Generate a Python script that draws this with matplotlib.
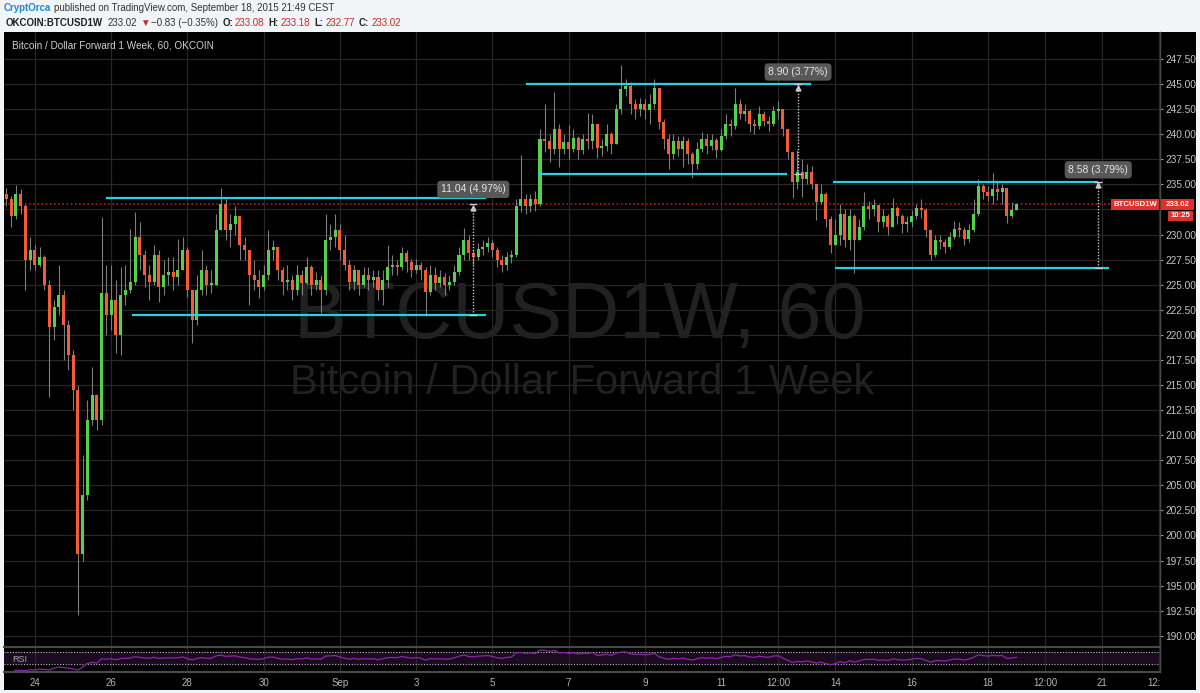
import numpy as np
import pandas as pd
import matplotlib
matplotlib.use('Agg')
import matplotlib.pyplot as plt
from matplotlib.patches import Rectangle
from matplotlib.lines import Line2D
from matplotlib.transforms import Bbox, TransformedBbox

plt.rcParams['font.family'] = ['Liberation Sans', 'DejaVu Sans']

W, H = 1200, 693

start_hour = 6
step_hours = 3
first_open = 234.0
close = [233.5, 231.8, 234.0, 232.8, 227.5, 228.5, 227.0, 227.8, 225.0, 220.8,
         222.8, 224.0, 221.0, 218.0, 214.5, 198.2, 204.0, 211.5, 214.0, 211.5,
         224.2, 222.0, 223.5, 220.0, 224.0, 224.5, 225.3, 229.8, 228.0, 226.0,
         225.3, 228.0, 224.8, 226.0, 226.3, 225.8, 226.5, 228.5, 224.5, 221.5,
         224.5, 226.5, 225.0, 225.0, 230.5, 233.0, 230.5, 231.0, 231.8, 229.0,
         228.5, 226.0, 225.5, 224.8, 226.0, 228.5, 228.8, 226.5, 225.3, 225.5,
         224.5, 226.0, 225.2, 226.8, 225.0, 225.5, 224.5, 229.5, 229.8, 230.5,
         228.5, 227.0, 225.3, 226.5, 225.0, 226.0, 225.5, 225.8, 224.5, 225.5,
         226.8, 227.0, 226.8, 228.2, 227.3, 226.5, 227.0, 226.5, 224.3, 226.0,
         225.2, 225.8, 225.0, 225.3, 226.3, 228.0, 229.5, 228.2, 227.8, 228.6,
         228.8, 229.2, 228.5, 227.5, 227.0, 227.8, 228.0, 232.8, 233.5, 232.8,
         233.5, 233.0, 239.5, 239.3, 238.5, 240.5, 238.5, 239.2, 238.5, 239.6,
         238.4, 239.5, 239.3, 241.0, 238.6, 238.8, 240.0, 239.0, 242.5, 244.5,
         244.8, 243.0, 242.5, 243.0, 242.4, 243.0, 244.6, 241.2, 239.5, 238.0,
         239.3, 238.5, 239.3, 238.0, 237.0, 238.5, 239.5, 238.8, 239.4, 238.4,
         239.8, 241.0, 240.8, 243.0, 242.0, 242.3, 241.0, 240.8, 242.0, 241.3,
         241.0, 242.3, 242.5, 240.5, 238.2, 235.2, 236.2, 235.5, 236.2, 235.0,
         233.2, 234.0, 231.5, 229.0, 230.0, 232.0, 229.5, 231.8, 229.5, 230.8,
         232.8, 232.5, 232.9, 231.2, 231.8, 230.8, 232.6, 231.8, 231.0, 231.2,
         231.8, 232.6, 232.4, 230.5, 228.0, 229.5, 229.3, 228.8, 229.8, 230.6,
         230.5, 229.6, 230.5, 232.0, 234.8, 234.2, 233.8, 234.5, 234.2, 234.6,
         231.8, 232.4, 233.02]
high = [234.6, 233.8, 234.9, 234.5, 233.0, 229.8, 229.0, 228.8, 228.0, 225.5,
        223.5, 227.0, 224.5, 221.5, 218.5, 215.0, 208.0, 213.5, 216.8, 214.0,
        231.7, 227.0, 227.0, 225.5, 226.8, 227.0, 230.6, 232.2, 231.2, 228.5,
        227.0, 229.0, 228.5, 227.5, 227.8, 227.8, 229.6, 229.8, 228.8, 224.5,
        226.0, 228.5, 227.0, 226.5, 232.0, 234.6, 233.5, 232.0, 232.8, 231.5,
        229.8, 228.5, 227.5, 226.5, 227.0, 230.5, 229.5, 228.5, 226.8, 227.0,
        226.0, 227.0, 226.5, 227.8, 227.0, 226.3, 226.0, 232.0, 231.0, 232.0,
        231.0, 230.0, 227.5, 227.0, 226.5, 226.8, 226.8, 226.5, 226.5, 226.5,
        229.0, 228.0, 227.5, 228.8, 228.5, 227.6, 227.6, 227.3, 226.8, 227.0,
        226.8, 226.5, 226.2, 226.0, 227.0, 228.8, 230.7, 230.0, 228.6, 229.2,
        229.5, 229.8, 229.5, 228.8, 228.0, 228.3, 228.5, 233.5, 237.9, 234.0,
        234.0, 234.3, 240.5, 243.0, 240.0, 244.2, 241.0, 240.0, 240.9, 240.5,
        239.8, 240.0, 242.1, 242.0, 241.0, 239.5, 241.0, 240.2, 243.0, 246.9,
        245.5, 245.2, 243.5, 243.6, 243.5, 244.0, 245.5, 244.0, 241.5, 240.0,
        240.0, 239.8, 239.8, 239.6, 238.2, 239.2, 240.2, 240.0, 240.0, 239.6,
        240.5, 242.0, 241.5, 244.6, 243.5, 243.0, 242.5, 241.5, 242.8, 242.3,
        241.8, 242.8, 243.3, 242.5, 240.5, 238.0, 238.4, 237.5, 237.0, 236.8,
        235.0, 235.0, 234.2, 231.8, 231.5, 233.0, 232.5, 232.5, 232.0, 231.5,
        234.2, 233.3, 233.5, 232.8, 232.5, 232.0, 233.6, 232.8, 232.0, 231.8,
        232.4, 233.0, 233.5, 232.6, 230.5, 230.0, 230.0, 229.6, 230.3, 231.3,
        231.2, 230.8, 231.0, 233.5, 235.5, 235.0, 234.8, 236.1, 235.2, 235.0,
        234.5, 233.2, 233.18]
low = [232.8, 230.8, 231.5, 232.0, 224.5, 226.5, 226.5, 226.8, 224.5, 213.8,
       219.5, 222.0, 217.5, 216.5, 212.5, 192.1, 197.5, 203.5, 211.0, 210.5,
       211.0, 220.0, 220.5, 218.2, 218.0, 223.0, 224.2, 225.0, 226.5, 224.8,
       223.5, 225.0, 223.3, 224.0, 225.0, 224.5, 225.0, 226.5, 223.8, 219.2,
       221.0, 224.0, 224.0, 224.2, 225.0, 231.0, 229.5, 228.8, 230.0, 227.5,
       227.5, 223.0, 224.5, 223.7, 224.5, 225.5, 227.5, 225.5, 224.0, 224.5,
       223.5, 224.0, 224.0, 225.0, 224.0, 224.5, 222.2, 224.0, 228.5, 228.8,
       227.5, 226.5, 224.5, 224.5, 224.0, 224.8, 224.5, 224.8, 223.5, 223.0,
       224.8, 226.0, 226.0, 226.5, 226.3, 225.8, 226.2, 225.5, 221.9, 224.0,
       224.5, 224.8, 224.0, 224.5, 225.0, 226.0, 227.5, 227.5, 227.0, 227.5,
       228.0, 228.3, 227.8, 226.8, 226.3, 226.5, 227.2, 227.8, 232.2, 232.0,
       232.2, 232.3, 232.8, 238.2, 237.2, 238.0, 236.7, 238.0, 237.5, 238.2,
       237.5, 238.0, 238.5, 238.5, 237.6, 237.8, 238.3, 238.0, 239.0, 242.0,
       243.8, 242.0, 241.5, 241.8, 241.5, 241.0, 242.5, 240.5, 238.5, 236.5,
       237.5, 237.8, 236.7, 237.0, 235.6, 236.5, 238.2, 238.0, 238.4, 237.6,
       238.3, 239.5, 239.8, 240.5, 241.5, 241.3, 240.2, 240.0, 240.5, 240.8,
       240.3, 240.8, 241.5, 239.8, 237.5, 233.6, 234.5, 233.7, 235.0, 234.5,
       231.4, 233.0, 230.8, 228.2, 229.0, 229.0, 228.8, 228.5, 226.2, 229.5,
       230.5, 231.5, 231.8, 230.3, 230.8, 230.0, 230.8, 231.0, 230.2, 230.3,
       230.8, 231.5, 231.6, 229.8, 227.5, 227.8, 228.6, 228.2, 228.6, 229.6,
       229.8, 229.0, 229.3, 230.3, 231.8, 233.5, 233.3, 233.0, 233.4, 233.0,
       231.1, 231.6, 232.4]
last_price = 233.02

date_ticks = [24, 72, 120, 168, 216, 264, 312, 360, 408, 456, 492, 528, 576, 624, 660, 696, 732]
date_labels = ['24', '26', '28', '30', 'Sep', '3', '5', '7', '9', '11', '12:00',
               '14', '16', '18', '12:00', '21', '12:00']

# drawn horizontal levels: (from hour, to hour, price)
levels = [(68.5, 308, 233.6), (85, 308, 222.0), (333, 512.5, 245.0),
          (340.5, 497.5, 236.0), (526.5, 693.5, 235.25), (528, 700, 226.7)]
# price range measurements: (hour, from price, to price, label, label price)
measures = [(300, 222.0, 233.04, '11.04 (4.97%)', 234.5),
            (504.5, 236.07, 244.97, '8.90 (3.77%)', 246.2),
            (693.5, 226.67, 235.25, '8.58 (3.79%)', 236.45)]


def fx(x):
    return x / W


def fy(y):
    return 1 - y / H


fig = plt.figure(figsize=(W / 100, H / 100), dpi=100, facecolor='#f2f5f7')
fig.add_artist(Rectangle((fx(4), fy(690)), 1192 / W, 658 / H, transform=fig.transFigure,
                         fc='black', ec='none', zorder=-1))

ax = fig.add_axes([fx(4), fy(647), 1156 / W, 615 / H])
rsi_ax = fig.add_axes([fx(4), fy(672), 1156 / W, 25 / H], sharex=ax)
for a in (ax, rsi_ax):
    a.set_facecolor('black')
    for s in a.spines.values():
        s.set_visible(False)
    a.set_axisbelow(True)
    a.grid(True, axis='x', color='#272727', lw=0.9)

# candles
t = start_hour + step_hours * np.arange(len(close))
c = np.array(close)
o = np.r_[first_open, c[:-1]]
hi = np.maximum(np.array(high), np.maximum(o, c))
lo = np.minimum(np.array(low), np.minimum(o, c))
up = c >= o
body = np.maximum(np.abs(c - o), 0.15)
ax.vlines(t, lo, hi, color='#7d7d7d', lw=0.8, zorder=3)
ax.bar(t[up], body[up], bottom=o[up], width=1.9, color='#52d24b', lw=0, zorder=4)
ax.bar(t[~up], body[~up], bottom=c[~up], width=1.9, color='#f45c36', lw=0, zorder=4)

ax.axhline(last_price, color='#b3191b', ls=(0, (1, 1.5)), lw=1.2, zorder=2)

for h0, h1, p in levels:
    ax.plot([h0, h1], [p, p], color='#27d2de', lw=1.6, zorder=6, solid_capstyle='butt')

for h, p0, p1, lab, lp in measures:
    ax.plot([h, h], [p0, p1], color='#c8c8c8', ls=(0, (1, 1.2)), lw=1, zorder=7)
    ax.plot([h, h], [p0, p1], ls='none', marker='_', ms=6, mew=1, color='#c8c8c8', zorder=7)
    ax.plot(h, p1 - 0.35, marker='^', ms=3.5, color='#c8c8c8', zorder=7)
    ax.text(h, lp, lab, ha='center', va='center', color='#e6e6e6', fontsize=7.5, zorder=8,
            bbox=dict(boxstyle='round,pad=0.35,rounding_size=0.35', fc='#585858', ec='none'))

# watermark
ax.text(0.498, 0.535, 'BTCUSD1W, 60', transform=ax.transAxes, ha='center', va='center',
        fontsize=57, color='#212121', zorder=1)
ax.text(0.5, 0.429, 'Bitcoin / Dollar Forward 1 Week', transform=ax.transAxes, ha='center',
        va='center', fontsize=30, color='#212121', zorder=1)

ax.set_xlim(4.5, 732.4)
ax.set_ylim(188.88, 250.19)
yt = np.arange(190, 247.51, 2.5)
ax.set_yticks(yt, [f'{v:.2f}' for v in yt])
ax.yaxis.tick_right()
ax.grid(True, axis='y', color='#272727', lw=0.9)
ax.tick_params(axis='y', length=2.5, width=0.8, color='#9a9a9a', labelcolor='#c4c4c4',
               labelsize=7.3, pad=1.5)
# the 232.50 label sits under the last-price boxes
for v, lbl in zip(yt, ax.get_yticklabels()):
    if abs(v - last_price) < 1.5:
        lbl.set_visible(False)
ax.set_xticks(date_ticks, date_labels)
ax.tick_params(axis='x', length=0, labelbottom=False)

# RSI pane
delta = np.diff(c)
gain = pd.Series(np.clip(delta, 0, None)).ewm(alpha=1 / 14, adjust=False).mean()
loss = pd.Series(np.clip(-delta, 0, None)).ewm(alpha=1 / 14, adjust=False).mean()
rsi = 100 - 100 / (1 + gain / loss.replace(0, np.nan))
rsi_ax.axhspan(30, 70, color='#1b0b20', lw=0, zorder=0.5)
for lvl in (30, 70):
    rsi_ax.axhline(lvl, color='#bdbdbd', ls=(0, (1, 1.5)), lw=0.8, zorder=1)
rsi_ax.plot(t[1:], rsi.values, color='#8e24aa', lw=0.9, zorder=3)
rsi_ax.set_ylim(3, 87)
rsi_ax.set_yticks([])
rsi_ax.tick_params(axis='x', length=0, labelcolor='#b5b5b5', labelsize=7, pad=4)
clip = TransformedBbox(Bbox([[0, 0], [fx(1160), 1]]), fig.transFigure)
for lbl in rsi_ax.get_xticklabels():
    lbl.set_clip_box(clip)
    lbl.set_clip_on(True)

for y in (647, 672):
    fig.add_artist(Line2D([fx(4), fx(1160)], [fy(y), fy(y)], color='#4a4a4a', lw=1.5,
                          transform=fig.transFigure))
fig.add_artist(Line2D([fx(1160), fx(1160)], [fy(32), fy(672)], color='#4a4a4a', lw=1,
                      transform=fig.transFigure))
fig.text(fx(12), fy(660), 'RSI', color='#a8a8a8', fontsize=6.5, va='center')

# last price labels on the right
red = '#e0302a'
for x0, x1, y0, y1, txt in [(1111, 1159, 199, 209.5, 'BTCUSD1W'),
                            (1161, 1194, 199, 209.5, f'{last_price:.2f}'),
                            (1168, 1193, 210.5, 221, '10:25')]:
    fig.add_artist(Rectangle((fx(x0), fy(y1)), (x1 - x0) / W, (y1 - y0) / H,
                             transform=fig.transFigure, fc=red, ec='none', zorder=5))
    fig.text(fx((x0 + x1) / 2), fy((y0 + y1) / 2), txt, color='white', fontsize=5.6,
             fontweight='bold', ha='center', va='center', zorder=6)

# header, pieces placed one after another
renderer = fig.canvas.get_renderer()


def text_row(x, y, pieces, size):
    for txt, col, wt, gap in pieces:
        tx = fig.text(fx(x), fy(y), txt, color=col, fontsize=size, fontweight=wt, va='center')
        x = tx.get_window_extent(renderer).x1 + gap


fig.text(fx(12), fy(45), 'Bitcoin / Dollar Forward 1 Week, 60, OKCOIN', color='#cfcfcf',
         fontsize=7.2, va='center')
text_row(4, 8, [('CryptOrca', '#1d8bd1', 'bold', 3),
                ('published on TradingView.com, September 18, 2015 21:49 CEST', '#333333', 'normal', 0)], 7.0)
dark, grey, neg = '#222222', '#333333', '#c62828'
text_row(6, 22.5, [('OKCOIN:BTCUSD1W', dark, 'bold', 4), ('233.02', grey, 'normal', 3),
                   ('\u25bc', neg, 'normal', 2), ('\u22120.83 (\u22120.35%)', grey, 'normal', 4),
                   ('O:', dark, 'bold', 2), ('233.08', neg, 'normal', 4),
                   ('H:', dark, 'bold', 2), ('233.18', neg, 'normal', 4),
                   ('L:', dark, 'bold', 2), ('232.77', neg, 'normal', 4),
                   ('C:', dark, 'bold', 2), ('233.02', neg, 'normal', 0)], 7.0)

fig.savefig('out.png', dpi=100, facecolor=fig.get_facecolor())
